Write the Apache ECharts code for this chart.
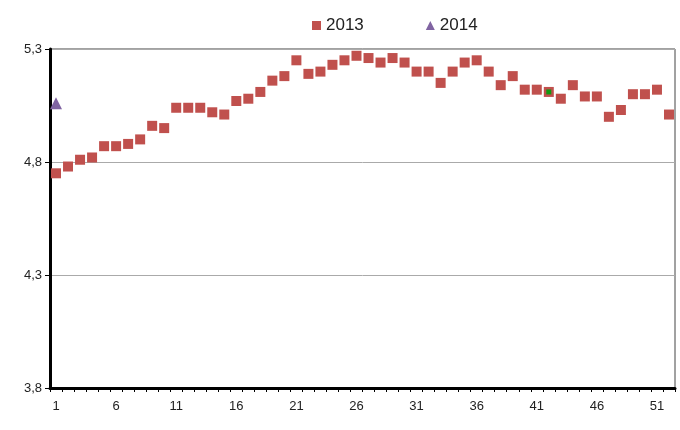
<!DOCTYPE html>
<html>
<head>
<meta charset="utf-8">
<script src="https://cdn.jsdelivr.net/npm/echarts@6/dist/echarts.min.js"></script>
<style>
  html, body { margin: 0; padding: 0; background: #fff; }
  #chart { width: 680px; height: 430px; }
</style>
</head>
<body>
<div id="chart"></div>
<script>
// week numbers
const weeks = ["1","2","3","4","5","6","7","8","9","10","11","12","13","14","15","16","17","18","19","20",
  "21","22","23","24","25","26","27","28","29","30","31","32","33","34","35","36","37","38","39","40",
  "41","42","43","44","45","46","47","48","49","50","51","52"];

const values2013 = [4.75, 4.78, 4.81, 4.82, 4.87, 4.87, 4.88, 4.90, 4.96, 4.95,
  5.04, 5.04, 5.04, 5.02, 5.01, 5.07, 5.08, 5.11, 5.16, 5.18,
  5.25, 5.19, 5.20, 5.23, 5.25, 5.27, 5.26, 5.24, 5.26, 5.24,
  5.20, 5.20, 5.15, 5.20, 5.24, 5.25, 5.20, 5.14, 5.18, 5.12,
  5.12, 5.11, 5.08, 5.14, 5.09, 5.09, 5.00, 5.03, 5.10, 5.10,
  5.12, 5.01];

const values2014 = [5.06];

// the single highlighted week (green marker)
const highlightWeek = "42";
const highlightValue = 5.11;

const yMin = 3.8;
const yMax = 5.3;
const yStep = 0.5;

const font = "'Liberation Sans', Arial, sans-serif";

const chart = echarts.init(document.getElementById("chart"));
chart.setOption({
  animation: false,
  legend: {
    data: [
      { name: "2013", icon: "rect" },
      { name: "2014", icon: "triangle" }
    ],
    top: 12,
    left: 307,
    itemWidth: 9,
    itemHeight: 9,
    itemGap: 62,
    textStyle: { fontFamily: font, fontSize: 17, color: "#222" }
  },
  grid: {
    left: 50, right: 5, top: 49, bottom: 42,
    show: true, borderColor: "#444", borderWidth: 1
  },
  xAxis: {
    type: "category",
    data: weeks,
    boundaryGap: true,
    axisLine: { lineStyle: { color: "#000", width: 3 } },
    axisTick: { show: true, interval: 0, length: 4, lineStyle: { color: "#000", width: 1 } },
    axisLabel: { interval: 4, margin: 12, fontFamily: font, fontSize: 13, color: "#222" },
    splitLine: { show: false }
  },
  yAxis: {
    type: "value",
    min: yMin,
    max: yMax,
    interval: yStep,
    axisLine: { show: true, lineStyle: { color: "#000", width: 3 } },
    axisTick: { show: true, length: 5, lineStyle: { color: "#000" } },
    axisLabel: {
      margin: 8, fontFamily: font, fontSize: 13, color: "#222",
      formatter: v => v.toFixed(1).replace(".", ",")
    },
    splitLine: { show: true, lineStyle: { color: "#aaa", width: 1 } }
  },
  series: [
    {
      name: "2013",
      type: "scatter",
      symbol: "rect",
      symbolSize: 10,
      itemStyle: { color: "#C0504D", opacity: 1 },
      data: values2013
    },
    {
      name: "2014",
      type: "scatter",
      symbol: "triangle",
      symbolSize: 12,
      itemStyle: { color: "#8064A2", opacity: 1 },
      data: values2014
    },
    {
      name: "highlight",
      type: "scatter",
      symbol: "rect",
      symbolSize: 5,
      itemStyle: { color: "#119911", opacity: 1 },
      data: [[highlightWeek, highlightValue]]
    }
  ]
});
</script>
</body>
</html>
